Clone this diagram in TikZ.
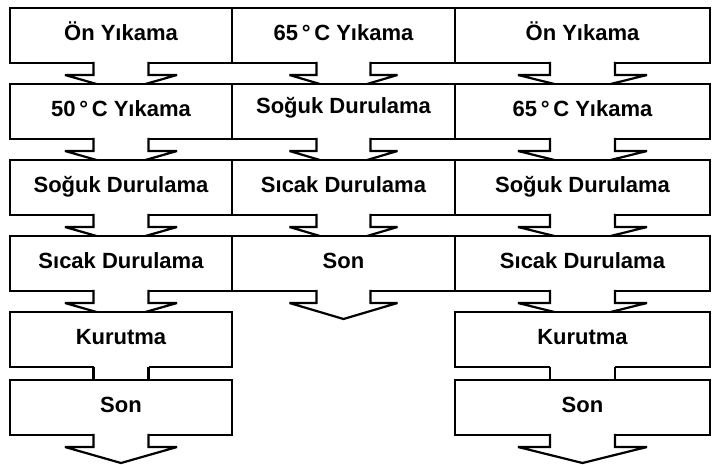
\documentclass[tikz,border=0pt]{standalone}
\usepackage{fontspec}
\setmainfont{Liberation Sans}
\usetikzlibrary{positioning}

\begin{document}
\begin{tikzpicture}[
    x=1pt, y=1pt,
    node distance=21pt and 0pt,
    stage/.style={
        draw, fill=white, line width=2.2pt, rectangle,
        inner sep=0pt, outer sep=0pt,
        minimum height=55pt, text height=0.95em, text depth=0pt,
        font=\bfseries\fontsize{22}{26}\selectfont
    },
    narrow/.style={stage, minimum width=222pt},
    middle/.style={stage, minimum width=223pt},
    wide/.style={stage, minimum width=255pt},
    flow/.style={line width=2.2pt, miter limit=6},
    pics/chute/.style args={#1/#2}{
        code={
            \fill[white] (-#1,1.4) rectangle (#1,-1.4);
            \filldraw[flow, fill=white] (-#1,1.1) -- (-#1,-12) -- (-#2,-12)
                -- (0,-28) -- (#2,-12) -- (#1,-12) -- (#1,1.1);
        }
    }
]
    \fill[white] (0,0) rectangle (715,-465);
    \useasboundingbox (0,0) rectangle (715,-465);

    % row 1
    \node[narrow, anchor=north west] (c1r1) at (10,-8) {Ön Yıkama};
    \node[middle, right=of c1r1] (c2r1) {65\,°\,C Yıkama};
    \node[wide, right=of c2r1] (c3r1) {Ön Yıkama};
    \pic at (c1r1.south) {chute=27.5/56};
    \pic at (c2r1.south) {chute=27/54};
    \pic at (c3r1.south) {chute=32.5/64.5};

    % row 2
    \node[narrow, below=of c1r1] (c1r2) {50\,°\,C Yıkama};
    \node[middle, right=of c1r2] (c2r2) {\raisebox{3pt}{Soğuk Durulama}};
    \node[wide, right=of c2r2] (c3r2) {65\,°\,C Yıkama};
    \pic at (c1r2.south) {chute=27.5/56};
    \pic at (c2r2.south) {chute=27/54};
    \pic at (c3r2.south) {chute=32.5/64.5};

    % row 3
    \node[narrow, below=of c1r2] (c1r3) {Soğuk Durulama};
    \node[middle, right=of c1r3] (c2r3) {Sıcak Durulama};
    \node[wide, right=of c2r3] (c3r3) {Soğuk Durulama};
    \pic at (c1r3.south) {chute=27.5/56};
    \pic at (c2r3.south) {chute=27/54};
    \pic at (c3r3.south) {chute=32.5/64.5};

    % row 4
    \node[narrow, below=of c1r3] (c1r4) {Sıcak Durulama};
    \node[middle, right=of c1r4] (c2r4) {Son};
    \node[wide, right=of c2r4] (c3r4) {Sıcak Durulama};
    \pic at (c1r4.south) {chute=27.5/56};
    \pic at (c2r4.south) {chute=27/54};
    \pic at (c3r4.south) {chute=32.5/64.5};

    % row 5
    \node[narrow, below=of c1r4] (c1r5) {Kurutma};
    \node[wide, below=of c3r4] (c3r5) {Kurutma};

    % row 6
    \node[narrow, below=13pt of c1r5] (c1r6) {Son};
    \node[wide, below=13pt of c3r5] (c3r6) {Son};

    \fill[white] ([shift={(-27.5,1.4)}]c1r5.south)
        rectangle ([shift={(27.5,-1.4)}]c1r5.south);
    \draw[flow] ([xshift=-27.5pt]c1r5.south) -- ([xshift=-27.5pt]c1r6.north)
        ([xshift=27.5pt]c1r5.south) -- ([xshift=27.5pt]c1r6.north);
    \fill[white] ([shift={(-32.5,1.4)}]c3r5.south)
        rectangle ([shift={(32.5,-1.4)}]c3r5.south);
    \draw[flow] ([xshift=-32.5pt]c3r5.south) -- ([xshift=-32.5pt]c3r6.north)
        ([xshift=32.5pt]c3r5.south) -- ([xshift=32.5pt]c3r6.north);

    \pic at (c1r6.south) {chute=27.5/56};
    \pic at (c3r6.south) {chute=32.5/64.5};
\end{tikzpicture}
\end{document}
